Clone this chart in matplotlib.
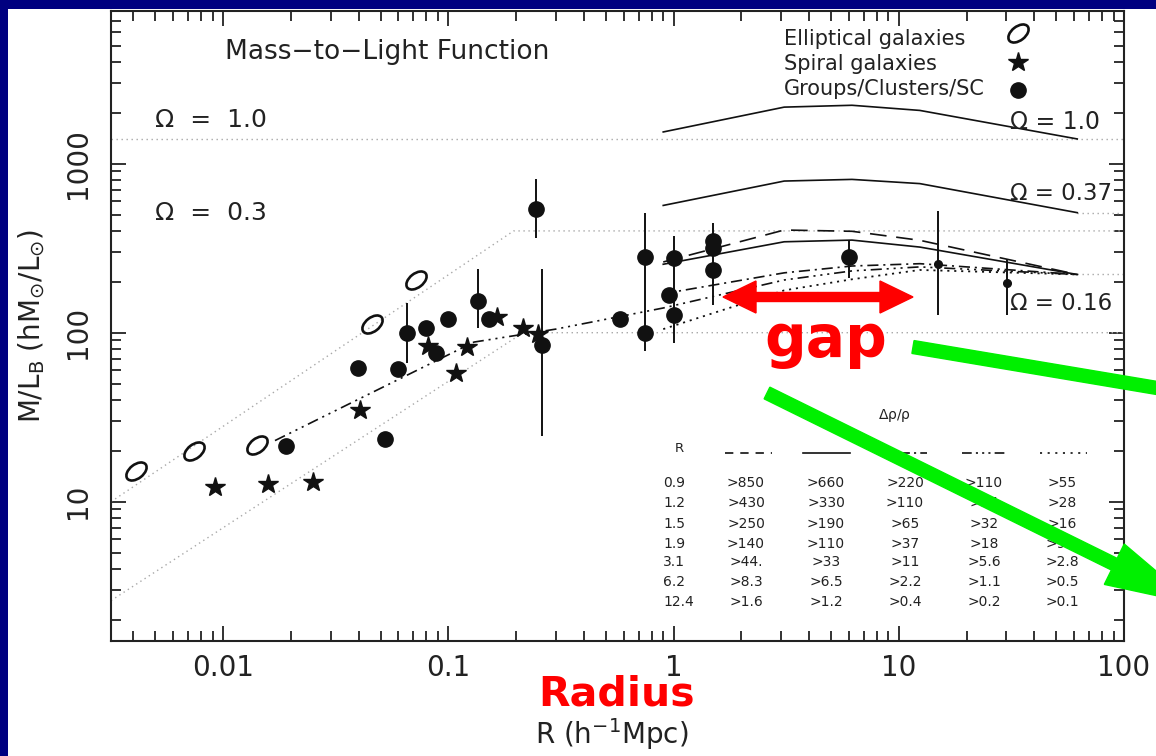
import numpy as np
import matplotlib
matplotlib.use('Agg')
import matplotlib.pyplot as plt
import matplotlib.patches as mpatches
import matplotlib.transforms as mtransforms
from matplotlib.path import Path
from matplotlib.ticker import LogLocator, NullFormatter, FuncFormatter

plt.rcParams['font.family'] = ['DejaVu Sans']
plt.rcParams['mathtext.default'] = 'regular'
plt.rcParams['lines.scale_dashes'] = False

# ---- data (R in h^-1 Mpc, M/L_B) ----
ell_r = [0.0041, 0.0074, 0.0141, 0.0457, 0.072]
ell_ml = [15.2, 20, 21.8, 112, 205]

spiral_r = [0.0092, 0.0159, 0.025, 0.0405, 0.0815, 0.108, 0.1216, 0.164, 0.215, 0.251]
spiral_ml = [12.3, 12.8, 13.1, 34.7, 83, 58, 82, 123, 106, 98]

group_r = [0.019, 0.0399, 0.0524, 0.060, 0.0655, 0.080, 0.0883, 0.100, 0.135, 0.151,
           0.244, 0.26, 0.58, 0.745, 0.745, 0.95, 1.0, 1.0, 1.5, 1.5, 1.5, 6.0]
group_ml = [21.5, 62, 23.6, 61, 100, 106, 76, 121, 154, 121,
            542, 85, 120, 282, 100, 166, 276, 127, 348, 318, 235, 282]

sc_r = [15.0, 30.1]
sc_ml = [256, 198]

err_r = [0.0655, 0.135, 0.244, 0.26, 0.745, 1.0, 1.5, 6.0, 15.0, 30.1]
err_lo = [66, 106, 365, 24.4, 78, 87, 145, 211, 128, 128]
err_hi = [150, 237, 808, 237, 513, 373, 448, 348, 525, 272]

# model curves
curve_r = [0.9, 3.1, 6.2, 12.4, 62]
omega10_ml = [1540, 2160, 2215, 2065, 1400]
omega037_ml = [566, 789, 807, 762, 513]
dashed_ml = [262, 405, 398, 352, 221]
solid_ml = [254, 345, 353, 321, 221]
dashdot_ml = [170, 226, 248, 256, 221]
dotted_ml = [105, 178, 207, 235, 221]
ddd_r = [0.017, 0.13, 0.3, 0.9, 3.1, 6.2, 12.4, 62]
ddd_ml = [23, 88, 105, 140, 205, 232, 245, 221]

# light reference lines
ref_up_r = [0.00318, 0.195, 100]
ref_up_ml = [10, 400, 400]
ref_lo_r = [0.00318, 0.215, 100]
ref_lo_ml = [2.6, 100, 100]
ref_omega1 = 1390
ref_short_r = [62, 100]
ref_short_ml = [[221, 221], [513, 513]]

# table
tab_R = ['0.9', '1.2', '1.5', '1.9', '3.1', '6.2', '12.4']
tab_cols = [
    ['>850', '>430', '>250', '>140', '>44.', '>8.3', '>1.6'],
    ['>660', '>330', '>190', '>110', '>33', '>6.5', '>1.2'],
    ['>220', '>110', '>65', '>37', '>11', '>2.2', '>0.4'],
    ['>110', '>55', '>32', '>18', '>5.6', '>1.1', '>0.2'],
    ['>55', '>28', '>16', '>9.2', '>2.8', '>0.5', '>0.1'],
]

W, H = 1156, 756
fig = plt.figure(figsize=(W / 100, H / 100), dpi=100, facecolor='#000080')
fig.add_artist(mpatches.Rectangle((8 / W, 0), 1, 1 - 9 / H, transform=fig.transFigure,
                                  facecolor='white', edgecolor='none', zorder=-5))

L, R_, T, B = 111, 1124, 11, 641
ax = fig.add_axes([L / W, 1 - B / H, (R_ - L) / W, (B - T) / H])
ax.set_xscale('log')
ax.set_yscale('log')
ax.set_xlim(0.00318, 100)
ax.set_ylim(1.5, 8000)


def axf(px, py):
    return (px - L) / (R_ - L), (B - py) / (B - T)


pix = mtransforms.Affine2D().scale(1 / W, 1 / H) + fig.transFigure

grey = '#a8a8a8'
gdot = (0, (1, 2.6))
ax.axhline(ref_omega1, color=grey, lw=1, ls=gdot)
ax.plot(ref_up_r, ref_up_ml, color=grey, lw=1, ls=gdot)
ax.plot(ref_lo_r, ref_lo_ml, color=grey, lw=1, ls=gdot)
for yy in ref_short_ml:
    ax.plot(ref_short_r, yy, color=grey, lw=1, ls=gdot)

k = '#111111'
ax.plot(curve_r, omega10_ml, color=k, lw=1.2)
ax.plot(curve_r, omega037_ml, color=k, lw=1.2)
ax.plot(curve_r, solid_ml, color=k, lw=1.2)
ax.plot(curve_r, dashed_ml, color=k, lw=1.2, ls=(0, (12, 7)))
ax.plot(curve_r, dashdot_ml, color=k, lw=1.2, ls=(0, (8, 3.5, 1.5, 3.5)))
ax.plot(ddd_r, ddd_ml, color=k, lw=1.2, ls=(0, (8, 3.5, 1.5, 3.5, 1.5, 3.5, 1.5, 3.5)))
ax.plot(curve_r, dotted_ml, color=k, lw=1.3, ls=(0, (1.5, 3.5)))

ax.vlines(err_r, err_lo, err_hi, color=k, lw=1.4)

ell_path = Path.unit_circle().transformed(mtransforms.Affine2D().scale(1, 0.6).rotate_deg(38))
ax.plot(ell_r, ell_ml, ls='none', marker=ell_path, ms=15, mfc='none', mec=k, mew=1.9)
ax.plot(spiral_r, spiral_ml, ls='none', marker='*', ms=15, color=k)
ax.plot(group_r, group_ml, ls='none', marker='o', ms=11, color=k)
ax.plot(sc_r, sc_ml, ls='none', marker='o', ms=5.5, color=k)

# ticks / axes
for s in ax.spines.values():
    s.set_linewidth(1.5)
    s.set_color('#222222')
ax.xaxis.set_major_locator(LogLocator(base=10))
ax.yaxis.set_major_locator(LogLocator(base=10))
ax.xaxis.set_minor_locator(LogLocator(base=10, subs=np.arange(2, 10)))
ax.yaxis.set_minor_locator(LogLocator(base=10, subs=np.arange(2, 10)))
ax.xaxis.set_minor_formatter(NullFormatter())
ax.yaxis.set_minor_formatter(NullFormatter())
fmt = FuncFormatter(lambda v, _: f'{v:g}')
ax.xaxis.set_major_formatter(fmt)
ax.yaxis.set_major_formatter(fmt)
ax.tick_params(which='both', direction='in', top=True, right=True, width=1.3,
               color='#222222', labelcolor='#222222', labelsize=20)
ax.tick_params(which='major', length=11)
ax.tick_params(which='minor', length=7)
ax.tick_params(axis='x', pad=9)
ax.tick_params(axis='y', pad=14, labelrotation=90)
for lab in ax.get_yticklabels():
    lab.set_va('center')

ax.set_xlabel(r'R (h$^{-1}$Mpc)', fontsize=20, color='#222222')
ax.set_ylabel(r'M/L$_{B}$ (hM$_{\odot}$/L$_{\odot}$)', fontsize=20, color='#222222')
ax.xaxis.set_label_coords(*axf(612, 716))
ax.yaxis.set_label_coords(*axf(47, 326))

tc = '#222222'
ax.text(*axf(225, 52), 'Mass\u2212to\u2212Light Function', transform=ax.transAxes,
        fontsize=19, color=tc, va='center', ha='left')
ax.text(*axf(155, 120), '\u03a9  =  1.0', transform=ax.transAxes, fontsize=18, color=tc, va='center')
ax.text(*axf(155, 213), '\u03a9  =  0.3', transform=ax.transAxes, fontsize=18, color=tc, va='center')
ax.text(*axf(1010, 122), '\u03a9 = 1.0', transform=ax.transAxes, fontsize=17, color=tc, va='center')
ax.text(*axf(1010, 193), '\u03a9 = 0.37', transform=ax.transAxes, fontsize=16.5, color=tc, va='center')
ax.text(*axf(1010, 303), '\u03a9 = 0.16', transform=ax.transAxes, fontsize=16.5, color=tc, va='center')

# legend block
leg_txt = ['Elliptical galaxies', 'Spiral galaxies', 'Groups/Clusters/SC']
leg_y = [39, 64, 89]
for t, yy in zip(leg_txt, leg_y):
    ax.text(*axf(784, yy), t, transform=ax.transAxes, fontsize=15, color=tc, va='center')
ax.plot(*axf(1018, 33), transform=ax.transAxes, marker=ell_path, ms=15, mfc='none', mec=k, mew=1.9)
ax.plot(*axf(1018, 62), transform=ax.transAxes, marker='*', ms=15, color=k)
ax.plot(*axf(1018, 90), transform=ax.transAxes, marker='o', ms=11, color=k)

# delta rho table
ax.text(*axf(895, 416), r'$\Delta\rho/\rho$', transform=ax.transAxes, fontsize=10,
        color=tc, ha='center', va='center')
ax.text(*axf(679, 449), 'R', transform=ax.transAxes, fontsize=9.5, color=tc,
        ha='center', va='center')
samples = [((725, 772), (0, (6, 5))), ((803, 850), '-'),
           ((880, 927), (0, (7, 3, 1.5, 3))), ((962, 1008), (0, (7, 3, 1.5, 3, 1.5, 3, 1.5, 3))),
           ((1040, 1087), (0, (1.5, 4)))]
for (x0, x1), ls in samples:
    p0, p1 = axf(x0, 453), axf(x1, 453)
    ax.plot([p0[0], p1[0]], [p0[1], p1[1]], transform=ax.transAxes, color=k, lw=1.2, ls=ls)
row_y = [482.7, 503.3, 524, 544.3, 561.7, 582.3, 602.3]
col_x = [746, 826, 905, 984, 1062]
for i, yy in enumerate(row_y):
    ax.text(*axf(663, yy), tab_R[i], transform=ax.transAxes, fontsize=10, color=tc,
            ha='left', va='center')
    for j, cx in enumerate(col_x):
        ax.text(*axf(cx, yy), tab_cols[j][i], transform=ax.transAxes, fontsize=10,
                color=tc, ha='center', va='center')

# overlays: red gap arrow, labels, green arrows
red = '#ff0000'
green = '#00f000'
for dx in (-95, 95):
    fig.add_artist(mpatches.FancyArrow(818, H - 297, dx, 0, width=9, head_width=32,
                                       head_length=33, length_includes_head=True,
                                       color=red, transform=pix, zorder=10))
fig.text(826, H - 357, 'gap', transform=pix, fontsize=42, fontweight='bold', color=red,
         ha='center', va='baseline', zorder=10)
fig.text(617, H - 694, 'Radius', transform=pix, fontsize=29.5, fontweight='bold', color=red,
         ha='center', va='center', zorder=10)
fig.add_artist(mpatches.FancyArrow(913, H - 347, 300, -50.4, width=13, head_width=13,
                                   head_length=0.1, color=green, transform=pix, zorder=10))
fig.add_artist(mpatches.FancyArrow(767, H - 393, 428, -211, width=13, head_width=45,
                                   head_length=90, length_includes_head=True,
                                   color=green, transform=pix, zorder=10))

fig.savefig('out.png', dpi=100, facecolor=fig.get_facecolor())
